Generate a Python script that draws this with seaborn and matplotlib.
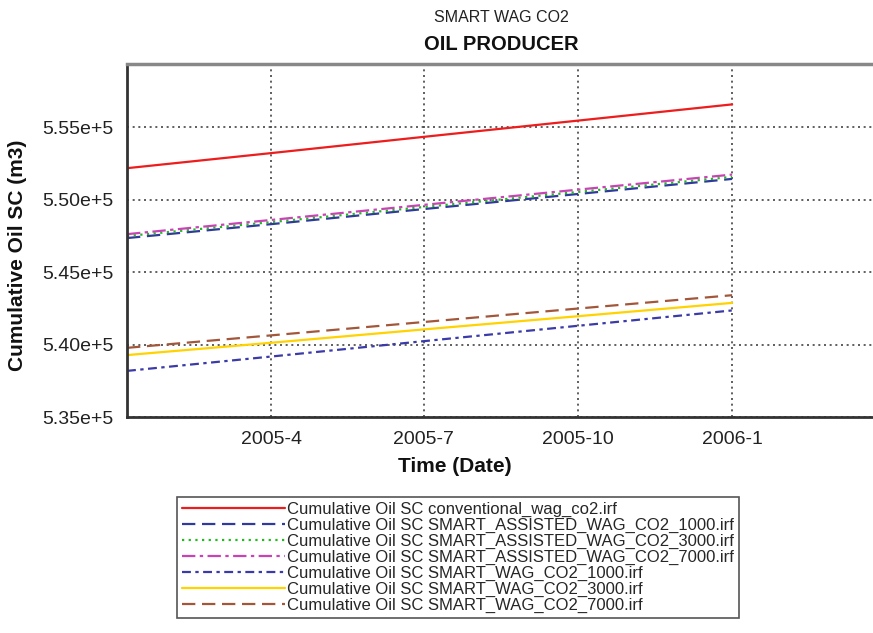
import pandas as pd
import matplotlib
matplotlib.use('Agg')
import matplotlib.pyplot as plt
import matplotlib.dates as mdates
from matplotlib.ticker import FuncFormatter
import seaborn as sns

# dates read at the left edge and at each grid line
dates = ['2005-01-05', '2005-04-01', '2005-07-01', '2005-10-01', '2006-01-01']

series_names = [
    'Cumulative Oil SC conventional_wag_co2.irf',
    'Cumulative Oil SC SMART_ASSISTED_WAG_CO2_1000.irf',
    'Cumulative Oil SC SMART_ASSISTED_WAG_CO2_3000.irf',
    'Cumulative Oil SC SMART_ASSISTED_WAG_CO2_7000.irf',
    'Cumulative Oil SC SMART_WAG_CO2_1000.irf',
    'Cumulative Oil SC SMART_WAG_CO2_3000.irf',
    'Cumulative Oil SC SMART_WAG_CO2_7000.irf',
]

conventional = [552160, 553200, 554320, 555440, 556560]
assisted_1000 = [547340, 548300, 549340, 550380, 551420]
assisted_3000 = [547480, 548440, 549480, 550520, 551560]
assisted_7000 = [547610, 548590, 549630, 550680, 551720]
smart_1000 = [538180, 539170, 540230, 541290, 542350]
smart_3000 = [539270, 540120, 541040, 541950, 542870]
smart_7000 = [539770, 540630, 541550, 542480, 543400]

all_values = [conventional, assisted_1000, assisted_3000, assisted_7000,
              smart_1000, smart_3000, smart_7000]

colors = ['#ee1d1d', '#2f3a9c', '#22b822', '#c844b4', '#3a3aa8', '#ffd200', '#a2573a']
dash_styles = ['', (6, 3), (1, 2), (6, 2, 1.5, 2), (4, 2, 1.5, 2), '', (6, 3)]

y_ticks = [535000, 540000, 545000, 550000, 555000]
x_ticks = ['2005-04-01', '2005-07-01', '2005-10-01', '2006-01-01']

rows = []
for name, vals in zip(series_names, all_values):
    for d, v in zip(dates, vals):
        rows.append({'Date': pd.Timestamp(d), 'Oil': v, 'Series': name})
df = pd.DataFrame(rows)

sns.set_style('white')
plt.rcParams['font.family'] = ['Liberation Sans', 'DejaVu Sans']

fig = plt.figure(figsize=(8.73, 6.33), dpi=100)
ax = fig.add_axes([127 / 873, 1 - 417 / 633, (883 - 127) / 873, (417 - 64) / 633])

sns.lineplot(
    data=df, x='Date', y='Oil', hue='Series', style='Series',
    hue_order=series_names, style_order=series_names,
    palette=dict(zip(series_names, colors)),
    dashes=dict(zip(series_names, dash_styles)),
    linewidth=1.6, legend=False, ax=ax,
)

ax.set_xlim(pd.Timestamp('2005-01-05'), pd.Timestamp('2006-04-01'))
ax.set_ylim(535000, 559345)
ax.set_yticks(y_ticks)
ax.set_xticks([pd.Timestamp(t) for t in x_ticks])
ax.yaxis.set_major_formatter(FuncFormatter(lambda v, p: f'{v / 1e5:.2f}e+5'))
ax.xaxis.set_major_formatter(FuncFormatter(
    lambda v, p: f'{mdates.num2date(v).year}-{mdates.num2date(v).month}'))

ax.grid(True, linestyle=(0, (1.2, 2.2)), color='#444444', linewidth=1.2)
ax.tick_params(axis='both', direction='out', length=6, width=1.6, color='#333333',
               labelsize=14, pad=4, labelcolor='#222222')
ax.set_xlabel('')
ax.set_ylabel('')

for side in ['left', 'bottom']:
    ax.spines[side].set_color('#333333')
    ax.spines[side].set_linewidth(2)
ax.spines['top'].set_color('#888888')
ax.spines['top'].set_linewidth(2.5)
ax.spines['right'].set_visible(False)

fig.text(501 / 873, 1 - 17 / 633, 'SMART WAG CO2', ha='center', va='center',
         fontsize=11.5, color='#222222')
fig.text(501 / 873, 1 - 44 / 633, 'OIL PRODUCER', ha='center', va='center',
         fontsize=14.5, fontweight='bold', color='#111111')
fig.text(455 / 873, 1 - 467 / 633, 'Time (Date)', ha='center', va='center',
         fontsize=15, fontweight='bold', color='#111111')
fig.text(18 / 873, 1 - 255 / 633, 'Cumulative Oil SC (m3)', ha='center', va='center',
         rotation=90, fontsize=15, fontweight='bold', color='#111111')

handles = ax.get_lines()[:len(series_names)]
leg = fig.legend(
    handles, series_names, loc='upper left',
    bbox_to_anchor=(177 / 873, 1 - 497 / 633), bbox_transform=fig.transFigure,
    frameon=True, fancybox=False, shadow=False, framealpha=1,
    edgecolor='#555555', fontsize=12, handlelength=6.2, handletextpad=0.1,
    borderaxespad=0, borderpad=0.3, labelspacing=0.05,
)
leg.get_frame().set_linewidth(1.2)

fig.savefig('out.png', dpi=100)
